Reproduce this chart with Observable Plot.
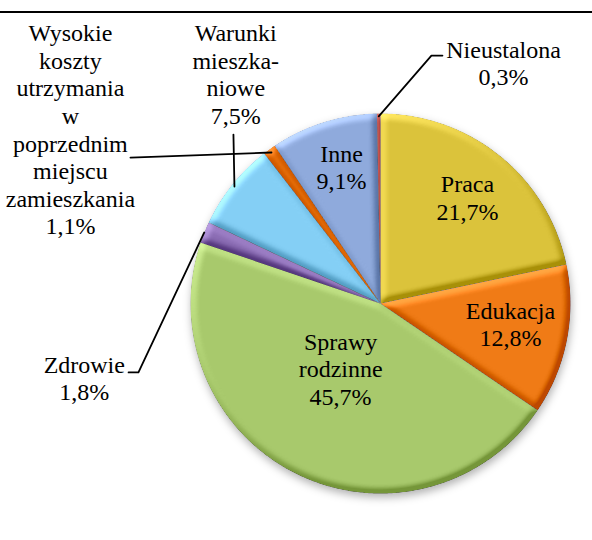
<!DOCTYPE html>
<html><head><meta charset="utf-8">
<script src="https://cdn.jsdelivr.net/npm/d3@7"></script>
<script src="https://cdn.jsdelivr.net/npm/@observablehq/plot@0.6"></script>
<style>
body{margin:0;background:#fff;}
#topline{position:absolute;left:0;top:11px;width:592px;height:2px;background:#000;}
</style></head><body>
<div id="topline"></div>
<script>
// ---- data ----
const categories = ["Praca","Edukacja","Sprawy rodzinne","Zdrowie","Warunki mieszkaniowe","Wysokie koszty utrzymania w poprzednim miejscu zamieszkania","Inne","Nieustalona"];
const shares = [21.7, 12.8, 45.7, 1.8, 7.5, 1.1, 9.1, 0.3];
const valueLabels = ["21,7%","12,8%","45,7%","1,8%","7,5%","1,1%","9,1%","0,3%"];
const nameLabels = ["Praca","Edukacja","Sprawy\nrodzinne","Zdrowie","Warunki\nmieszka-\nniowe","Wysokie\nkoszty\nutrzymania\nw\npoprzednim\nmiejscu\nzamieszkania","Inne","Nieustalona"];
const colors = ["#dbc33b","#f07b16","#a8c96c","#8a6cb3","#84cff5","#e46c0a","#8faadc","#c0504d"];

// ---- layout (label placement in polar units around the pie) ----
const labelRadius = [0.723, 0.692, 0.401, 1.607, 1.43, 1.873, 0.749, 1.424];
const labelShiftDeg = [0.2, -2.4, 5.1, -36, 19.1, -24.8, 1.6, 27.6];
const leaderStartR = {"Zdrowie":1.0, "Warunki mieszkaniowe":0.985, "Wysokie koszty utrzymania w poprzednim miejscu zamieszkania":0.98, "Nieustalona":0.985};
const leaderBends = {
  "Zdrowie": [[-1.274, 0.363], [-1.326, 0.363]],
  "Warunki mieszkaniowe": [[-0.774, -0.889]],
  "Wysokie koszty utrzymania w poprzednim miejscu zamieszkania": [[-1.316, -0.768]],
  "Nieustalona": [[0.268, -1.305], [0.326, -1.305]]
};
const R = 190, CX = 380, CY = 303, W = 592, H = 540;

// ---- geometry from data ----
const total = d3.sum(shares);
let acc = 0;
const slices = categories.map((c, i) => {
  const a0 = acc / total * 2 * Math.PI; acc += shares[i];
  const a1 = acc / total * 2 * Math.PI;
  return {c, i, a0, a1, mid: (a0 + a1) / 2};
});
const slicePts = slices.flatMap(s => {
  const n = Math.max(2, Math.ceil((s.a1 - s.a0) / (Math.PI / 360)));
  const pts = [{c: s.c, x: 0, y: 0}];
  for (let k = 0; k <= n; k++) {
    const a = s.a0 + (s.a1 - s.a0) * k / n;
    pts.push({c: s.c, x: Math.sin(a), y: -Math.cos(a)});
  }
  return pts;
});
const labels = slices.map(s => {
  const a = s.mid + labelShiftDeg[s.i] * Math.PI / 180;
  const r = labelRadius[s.i];
  return {c: s.c, x: r * Math.sin(a), y: -r * Math.cos(a), text: nameLabels[s.i] + "\n" + valueLabels[s.i]};
});
const leaders = slices.filter(s => leaderBends[s.c]).flatMap(s => {
  const r = leaderStartR[s.c];
  return [{c: s.c, x: r * Math.sin(s.mid), y: -r * Math.cos(s.mid)},
          ...leaderBends[s.c].map(([x, y]) => ({c: s.c, x, y}))];
});

const chart = Plot.plot({
  width: W, height: H, margin: 0,
  x: {domain: [-CX / R, (W - CX) / R], range: [0, W], axis: null},
  y: {domain: [-CY / R, (H - CY) / R], range: [0, H], axis: null},
  color: {domain: categories, range: colors},
  marks: [
    Plot.line(slicePts, {x: "x", y: "y", z: "c", fill: "c", stroke: "none", curve: "linear-closed"}),
    Plot.line(leaders, {x: "x", y: "y", z: "c", stroke: "#000", strokeWidth: 1.8, curve: "linear"}),
    Plot.text(labels, {x: "x", y: "y", text: "text", fontSize: 24, lineHeight: 1.15,
      fontFamily: "Liberation Serif", fill: "#000", textAnchor: "middle"})
  ]
});

const svg = d3.select(chart);
svg.insert("defs", ":first-child").html(`
<filter id="bevel" x="-5%" y="-5%" width="110%" height="110%" color-interpolation-filters="sRGB">
  <feGaussianBlur in="SourceAlpha" stdDeviation="3.5" result="blur"/>
  <feDiffuseLighting in="blur" surfaceScale="5" diffuseConstant="1" lighting-color="#ffffff" result="diff">
    <feDistantLight azimuth="235" elevation="30"/>
  </feDiffuseLighting>
  <feComposite in="SourceGraphic" in2="diff" operator="arithmetic" k1="0" k2="1" k3="0.4" k4="-0.2" result="lit"/>
  <feComposite in="lit" in2="SourceAlpha" operator="in"/>
</filter>
<filter id="shadow" x="-10%" y="-10%" width="120%" height="125%" color-interpolation-filters="sRGB">
  <feGaussianBlur in="SourceAlpha" stdDeviation="4" result="sb"/>
  <feOffset in="sb" dx="1" dy="4" result="so"/>
  <feFlood flood-color="#000" flood-opacity="0.3" result="sc"/>
  <feComposite in="sc" in2="so" operator="in" result="sh"/>
  <feMerge><feMergeNode in="sh"/><feMergeNode in="SourceGraphic"/></feMerge>
</filter>`);
const lineGroups = svg.selectAll("g[aria-label='line']").nodes();
d3.select(lineGroups[0]).attr("filter", "url(#shadow)");
d3.select(lineGroups[0]).selectAll("path").attr("filter", "url(#bevel)");

document.body.appendChild(chart);
</script>
</body></html>
